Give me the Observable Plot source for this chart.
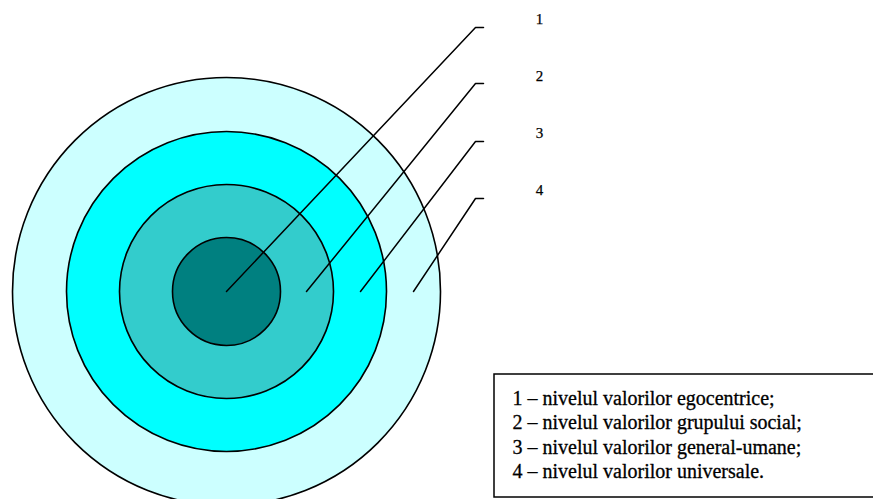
<!DOCTYPE html>
<html>
<head>
<meta charset="utf-8">
<script src="https://cdn.jsdelivr.net/npm/d3@7"></script>
<script src="https://cdn.jsdelivr.net/npm/@observablehq/plot@0.6"></script>
<style>
  html, body { margin: 0; padding: 0; background: #fff; }
  svg { display: block; }
</style>
</head>
<body>
<div id="chart"></div>
<script>
// Concentric levels (outer first)
const levelIds = [4, 3, 2, 1];
const levelRadii = [214, 160, 107, 54];
const levelFills = ["#CCFFFF", "#00FFFF", "#33CCCC", "#008080"];
const center = {x: 226, y: 291};

// Leader lines (level 1..4)
const leaderIds = [1, 2, 3, 4];
const leaderStartX = [226, 306, 360, 413];
const leaderY = [27, 83, 141, 198];
const elbowX = 475, leaderEndX = 483;
const labelX = 539;
const labelY = [23, 80, 137, 194];

// Legend
const legendLines = [
  "1 – nivelul valorilor egocentrice;",
  "2 – nivelul valorilor grupului social;",
  "3 – nivelul valorilor general-umane;",
  "4 – nivelul valorilor universale."
];
const legendBox = {x1: 494, x2: 890, y1: 374, y2: 497};
const legendTextX = 512;
const legendBaselines = [404, 428.5, 453, 477.5];

const font = "Liberation Serif";

const circles = levelIds.map((id, i) => ({id, r: levelRadii[i], fill: levelFills[i], x: center.x, y: center.y}));
const leaderPts = leaderIds.flatMap((id, i) => [
  {id, x: leaderStartX[i], y: center.y},
  {id, x: elbowX, y: leaderY[i]},
  {id, x: leaderEndX, y: leaderY[i]}
]);
const labels = leaderIds.map((id, i) => ({text: String(id), x: labelX, y: labelY[i]}));
const legendRows = legendLines.map((t, i) => ({text: t, x: legendTextX, y: legendBaselines[i]}));

const chart = Plot.plot({
  width: 873,
  height: 499,
  margin: 0,
  x: {domain: [0, 873], range: [0, 873], axis: null},
  y: {domain: [0, 499], range: [0, 499], axis: null},
  r: {type: "identity"},
  color: {type: "identity"},
  style: {background: "white"},
  marks: [
    Plot.dot(circles, {x: "x", y: "y", r: "r", fill: "fill", stroke: "black", strokeWidth: 1.6, sort: null}),
    Plot.line(leaderPts, {x: "x", y: "y", z: "id", stroke: "black", strokeWidth: 1.5, curve: "linear"}),
    Plot.text(labels, {x: "x", y: "y", text: "text", fontSize: 15, fontFamily: font, textAnchor: "middle", lineAnchor: "bottom", fill: "black", stroke: "black", strokeWidth: 0.25}),
    Plot.rect([legendBox], {x1: "x1", x2: "x2", y1: "y1", y2: "y2", fill: "white", stroke: "black", strokeWidth: 1.5}),
    Plot.text(legendRows, {x: "x", y: "y", text: "text", fontSize: 20, fontFamily: font, textAnchor: "start", lineAnchor: "bottom", fill: "black", stroke: "black", strokeWidth: 0.3})
  ]
});
document.getElementById("chart").appendChild(chart);
</script>
</body>
</html>
